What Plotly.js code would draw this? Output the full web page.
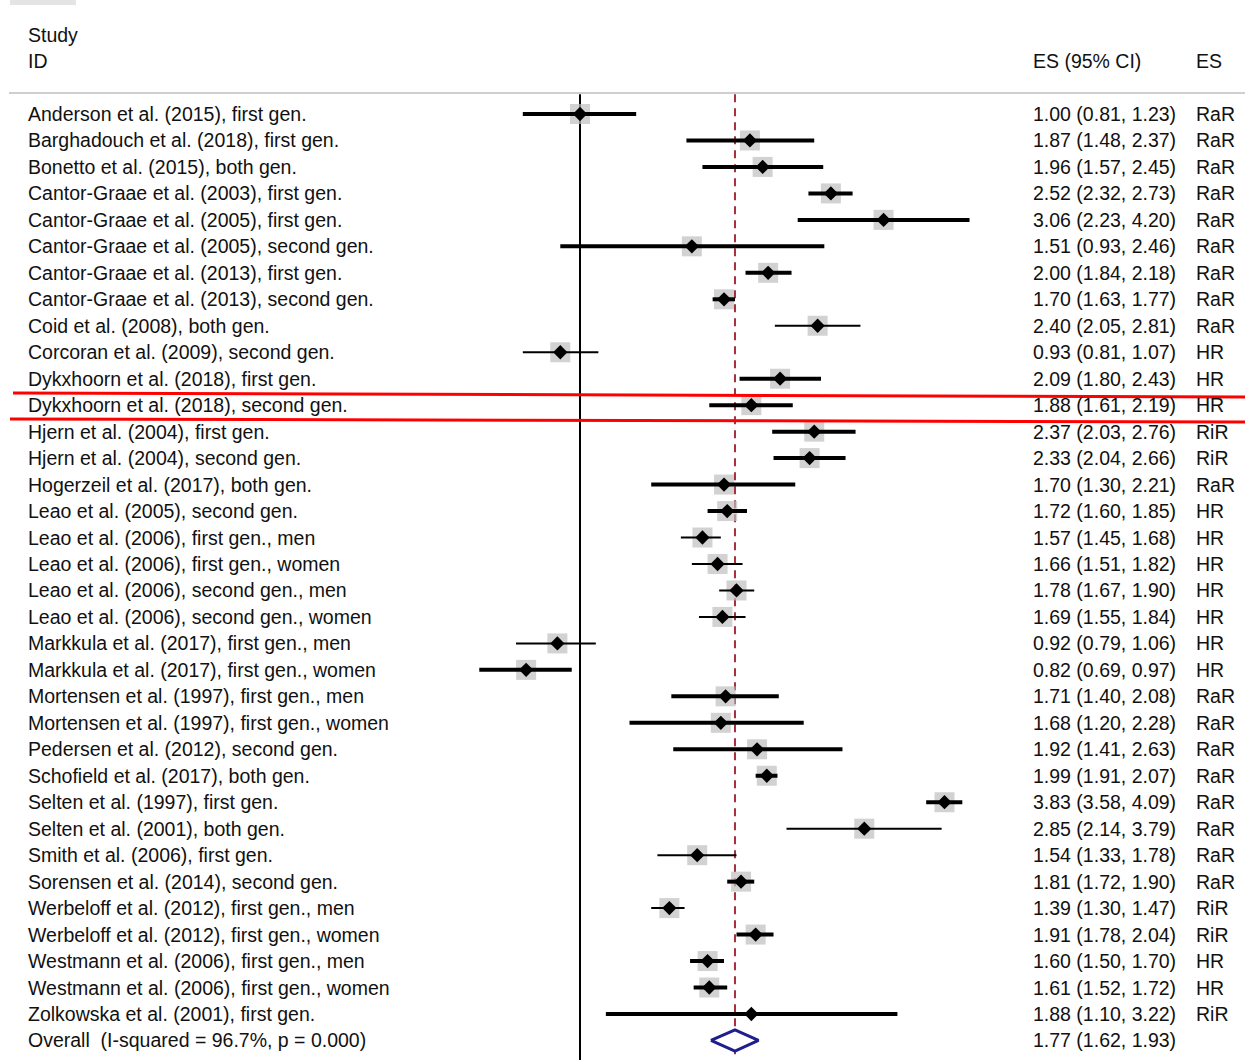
<!DOCTYPE html>
<html>
<head>
<meta charset="utf-8">
<script src="https://cdn.plot.ly/plotly-3.0.1.min.js"></script>
<style>
  html, body { margin: 0; padding: 0; background: #ffffff; }
  #chart { width: 1245px; height: 1060px; }
</style>
</head>
<body>
<div id="chart"></div>
<script>
// ---------------- DATA ----------------
const studies = [
  "Anderson et al. (2015), first gen.",
  "Barghadouch et al. (2018), first gen.",
  "Bonetto et al. (2015), both gen.",
  "Cantor-Graae et al. (2003), first gen.",
  "Cantor-Graae et al. (2005), first gen.",
  "Cantor-Graae et al. (2005), second gen.",
  "Cantor-Graae et al. (2013), first gen.",
  "Cantor-Graae et al. (2013), second gen.",
  "Coid et al. (2008), both gen.",
  "Corcoran et al. (2009), second gen.",
  "Dykxhoorn et al. (2018), first gen.",
  "Dykxhoorn et al. (2018), second gen.",
  "Hjern et al. (2004), first gen.",
  "Hjern et al. (2004), second gen.",
  "Hogerzeil et al. (2017), both gen.",
  "Leao et al. (2005), second gen.",
  "Leao et al. (2006), first gen., men",
  "Leao et al. (2006), first gen., women",
  "Leao et al. (2006), second gen., men",
  "Leao et al. (2006), second gen., women",
  "Markkula et al. (2017), first gen., men",
  "Markkula et al. (2017), first gen., women",
  "Mortensen et al. (1997), first gen., men",
  "Mortensen et al. (1997), first gen., women",
  "Pedersen et al. (2012), second gen.",
  "Schofield et al. (2017), both gen.",
  "Selten et al. (1997), first gen.",
  "Selten et al. (2001), both gen.",
  "Smith et al. (2006), first gen.",
  "Sorensen et al. (2014), second gen.",
  "Werbeloff et al. (2012), first gen., men",
  "Werbeloff et al. (2012), first gen., women",
  "Westmann et al. (2006), first gen., men",
  "Westmann et al. (2006), first gen., women",
  "Zolkowska et al. (2001), first gen."
];
const es = [1.00, 1.87, 1.96, 2.52, 3.06, 1.51, 2.00, 1.70, 2.40, 0.93, 2.09, 1.88,
            2.37, 2.33, 1.70, 1.72, 1.57, 1.66, 1.78, 1.69, 0.92, 0.82, 1.71, 1.68,
            1.92, 1.99, 3.83, 2.85, 1.54, 1.81, 1.39, 1.91, 1.60, 1.61, 1.88];
const ciLow = [0.81, 1.48, 1.57, 2.32, 2.23, 0.93, 1.84, 1.63, 2.05, 0.81, 1.80, 1.61,
               2.03, 2.04, 1.30, 1.60, 1.45, 1.51, 1.67, 1.55, 0.79, 0.69, 1.40, 1.20,
               1.41, 1.91, 3.58, 2.14, 1.33, 1.72, 1.30, 1.78, 1.50, 1.52, 1.10];
const ciHigh = [1.23, 2.37, 2.45, 2.73, 4.20, 2.46, 2.18, 1.77, 2.81, 1.07, 2.43, 2.19,
                2.76, 2.66, 2.21, 1.85, 1.68, 1.82, 1.90, 1.84, 1.06, 0.97, 2.08, 2.28,
                2.63, 2.07, 4.09, 3.79, 1.78, 1.90, 1.47, 2.04, 1.70, 1.72, 3.22];
const esType = ["RaR","RaR","RaR","RaR","RaR","RaR","RaR","RaR","RaR","HR","HR","HR",
                "RiR","RiR","RaR","HR","HR","HR","HR","HR","HR","HR","RaR","RaR",
                "RaR","RaR","RaR","RaR","RaR","RaR","RiR","RiR","HR","HR","RiR"];
const overallLabel = "Overall  (I-squared = 96.7%, p = 0.000)";
const overallES = 1.77, overallLow = 1.62, overallHigh = 1.93;
const headerStudy = ["Study", "ID"];
const headerES = "ES (95% CI)";
const headerType = "ES";

// ---------------- STYLE / LAYOUT ----------------
const W = 1245, H = 1060;
const thinRows = new Set([8, 9, 16, 17, 18, 19, 20, 27, 28, 30]);
const smallBoxRows = new Set([34]);
const rows = studies.map((_, i) => i);
const overallRow = studies.length;
const fmt = v => v.toFixed(2);
const px = p => p / W; // pixel -> paper x

const txtFont = { family: "Liberation Sans, Arial, Helvetica, sans-serif", size: 19.5, color: "#111111" };

// CI line traces (thick / thin)
function ciTrace(filter, width) {
  const x = [], y = [];
  rows.forEach(i => {
    if (filter(i)) { x.push(ciLow[i], ciHigh[i], null); y.push(i, i, null); }
  });
  return { type: "scatter", mode: "lines", x, y, line: { color: "#000000", width }, hoverinfo: "skip" };
}

const boxes = {
  type: "scatter", mode: "markers",
  x: es, y: rows,
  marker: { symbol: "square", size: rows.map(i => smallBoxRows.has(i) ? 4 : 20),
            color: "#bfbfbf", line: { width: 0 } },
  hoverinfo: "skip"
};
const dots = {
  type: "scatter", mode: "markers",
  x: es, y: rows,
  marker: { symbol: "diamond", size: 11, color: "#000000" },
  hoverinfo: "skip"
};
const diamond = {
  type: "scatter", mode: "lines",
  x: [overallLow, overallES, overallHigh, overallES, overallLow],
  y: [overallRow, overallRow - 0.4, overallRow, overallRow + 0.4, overallRow],
  fill: "toself", fillcolor: "#ffffff",
  line: { color: "#1e1e8c", width: 3 },
  hoverinfo: "skip"
};

const colStudy = px(26), colES = px(1031), colType = px(1194);
function note(x, y, text) {
  return { xref: "paper", yref: "y", x, y, text, xanchor: "left", yanchor: "middle",
           showarrow: false, font: txtFont };
}
const annotations = [];
rows.forEach(i => {
  annotations.push(note(colStudy, i, studies[i]));
  annotations.push(note(colES, i, fmt(es[i]) + " (" + fmt(ciLow[i]) + ", " + fmt(ciHigh[i]) + ")"));
  annotations.push(note(colType, i, esType[i]));
});
annotations.push(note(colStudy, overallRow, overallLabel));
annotations.push(note(colES, overallRow, fmt(overallES) + " (" + fmt(overallLow) + ", " + fmt(overallHigh) + ")"));
annotations.push(note(colStudy, -3, headerStudy[0]));
annotations.push(note(colStudy, -2, headerStudy[1]));
annotations.push(note(colES, -2, headerES));
annotations.push(note(colType, -2, headerType));

// pixel mapping: row pitch 26.47px, row 0 at y=114 ; x=1 at 580px, 625px / decade
const rowPitch = 26.47;
const yTop = -114 / rowPitch, yBot = (H - 114) / rowPitch;
const headerLineY = (93 - 114) / rowPitch;

const shapes = [
  { type: "rect", xref: "paper", yref: "paper", x0: px(10), x1: px(76), y0: 1, y1: 1 - 5 / H,
    fillcolor: "#e4e4e4", line: { width: 0 }, layer: "below" },
  { type: "line", xref: "paper", yref: "y", x0: px(9), x1: 1, y0: headerLineY, y1: headerLineY,
    line: { color: "#cfcfcf", width: 2 }, layer: "below" },
  { type: "line", xref: "x", yref: "y", x0: 1, x1: 1, y0: headerLineY + 0.05, y1: yBot,
    line: { color: "#000000", width: 2 }, layer: "below" },
  { type: "line", xref: "x", yref: "y", x0: overallES, x1: overallES, y0: headerLineY + 0.05, y1: yBot,
    line: { color: "#a3303c", width: 2, dash: "8px,6px" }, layer: "below" },
  // red highlight lines around the Dykxhoorn second gen. row
  { type: "line", xref: "paper", yref: "paper", x0: px(13), x1: 1, y0: 1 - 393 / H, y1: 1 - 397 / H,
    line: { color: "#ff0000", width: 3 } },
  { type: "line", xref: "paper", yref: "paper", x0: px(10), x1: 1, y0: 1 - 419 / H, y1: 1 - 422 / H,
    line: { color: "#ff0000", width: 3 } }
];

const layout = {
  width: W, height: H,
  margin: { l: 0, r: 0, t: 0, b: 0, pad: 0 },
  paper_bgcolor: "#ffffff", plot_bgcolor: "#ffffff",
  showlegend: false, hovermode: false,
  xaxis: { type: "log", range: [-580 / 625, (W - 580) / 625], domain: [0, 1],
           showgrid: false, zeroline: false, showticklabels: false, showline: false, ticks: "" },
  yaxis: { range: [yBot, yTop], domain: [0, 1],
           showgrid: false, zeroline: false, showticklabels: false, showline: false, ticks: "" },
  annotations, shapes
};

Plotly.newPlot("chart",
  [boxes, ciTrace(i => !thinRows.has(i), 4), ciTrace(i => thinRows.has(i), 2), dots, diamond],
  layout, { displayModeBar: false, staticPlot: true });
</script>
</body>
</html>
